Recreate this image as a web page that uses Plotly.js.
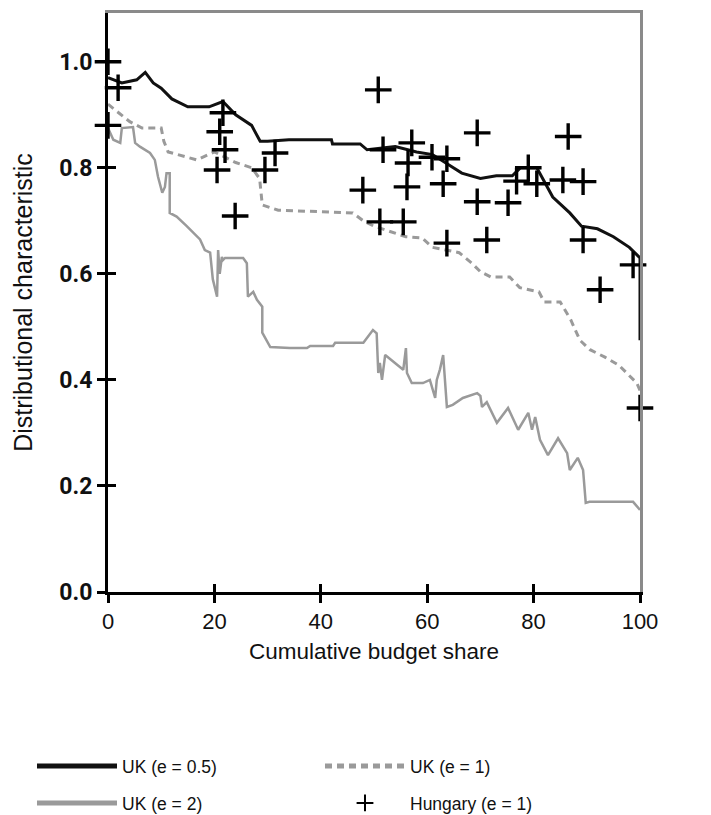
<!DOCTYPE html>
<html><head><meta charset="utf-8">
<script src="https://cdn.plot.ly/plotly-3.0.1.min.js"></script>
<style>body{margin:0;background:#fff}#chart{width:711px;height:815px}</style>
</head><body><div id="chart"></div>
<script>
// UK (e = 0.5)
const uk05X = [0, 2.6, 5.4, 7, 8.5, 10, 12, 15, 19, 21.6, 24, 27, 28.6, 30, 34, 42, 42.2, 47.4, 48.7, 54, 58, 61, 66.5, 70, 73, 76, 77.5, 80.6, 83.6, 86.8, 89, 92, 95, 98, 100, 100];
const uk05Y = [0.97, 0.96, 0.966, 0.98, 0.96, 0.95, 0.93, 0.915, 0.915, 0.925, 0.90, 0.88, 0.85, 0.85, 0.853, 0.853, 0.845, 0.845, 0.834, 0.84, 0.83, 0.825, 0.79, 0.78, 0.785, 0.785, 0.80, 0.80, 0.745, 0.715, 0.69, 0.685, 0.67, 0.65, 0.63, 0.475];
// UK (e = 1)
const uk1X = [0, 2.6, 4.1, 6.4, 10, 10.5, 11.3, 16.7, 20, 24, 27, 28.5, 29, 32, 46, 48, 50, 56, 59, 61, 66, 68.4, 70, 72, 75.5, 77.4, 81, 82, 85, 87, 88.7, 90.6, 93.4, 96, 99.4, 100];
const uk1Y = [0.92, 0.90, 0.887, 0.875, 0.875, 0.85, 0.83, 0.815, 0.83, 0.81, 0.80, 0.78, 0.73, 0.72, 0.715, 0.70, 0.69, 0.67, 0.668, 0.65, 0.64, 0.62, 0.604, 0.594, 0.594, 0.574, 0.566, 0.547, 0.547, 0.513, 0.475, 0.457, 0.443, 0.428, 0.394, 0.38];
// UK (e = 2)
const uk2X = [0, 1, 2.3, 2.6, 4.7, 5.1, 6, 7.9, 8.8, 9.4, 10.2, 10.7, 11, 11.6, 11.6, 12.9, 14.8, 17.3, 18.2, 19.2, 19.7, 20.5, 20.7, 21, 21.4, 21.6, 22, 25.4, 26.1, 26.3, 27.3, 28, 29, 29, 30.5, 34.2, 37.4, 38, 42.3, 42.7, 48, 48.7, 49.8, 50.5, 50.8, 51.1, 51.5, 52.1, 55.5, 56, 56.2, 57.1, 59.2, 60.5, 61.5, 61.8, 62.4, 63, 63.7, 64.8, 66.7, 69.4, 70, 70.3, 71.2, 73.1, 75.2, 77.1, 79, 79.7, 80.3, 81.2, 82.7, 84.6, 86.3, 86.8, 88.3, 89.3, 89.7, 89.8, 90.5, 98.7, 100];
const uk2Y = [0.875, 0.853, 0.847, 0.875, 0.877, 0.847, 0.84, 0.828, 0.815, 0.783, 0.753, 0.764, 0.79, 0.79, 0.715, 0.708, 0.69, 0.665, 0.645, 0.64, 0.59, 0.557, 0.645, 0.60, 0.632, 0.626, 0.63, 0.63, 0.62, 0.557, 0.566, 0.551, 0.538, 0.489, 0.462, 0.46, 0.46, 0.464, 0.464, 0.47, 0.47, 0.48, 0.494, 0.488, 0.413, 0.432, 0.40, 0.447, 0.419, 0.46, 0.413, 0.394, 0.394, 0.40, 0.366, 0.40, 0.42, 0.447, 0.349, 0.353, 0.366, 0.375, 0.37, 0.349, 0.358, 0.319, 0.347, 0.306, 0.338, 0.306, 0.33, 0.287, 0.258, 0.29, 0.262, 0.23, 0.253, 0.23, 0.19, 0.168, 0.17, 0.17, 0.155];
// Hungary (e = 1)
const huX = [0, 1.9, 0, 21.6, 21, 22, 20.5, 23.9, 29.5, 31.4, 47.9, 50.8, 51.1, 51.7, 55.5, 56.2, 56.4, 57.1, 60.9, 63, 63.7, 63.7, 69.4, 69.4, 71.2, 75.2, 76.8, 79, 80.6, 85.5, 86.5, 89.3, 89.3, 92.5, 98.7, 100];
const huY = [1.0, 0.951, 0.88, 0.904, 0.868, 0.834, 0.796, 0.709, 0.796, 0.828, 0.758, 0.947, 0.698, 0.834, 0.698, 0.764, 0.809, 0.847, 0.82, 0.77, 0.817, 0.658, 0.866, 0.736, 0.664, 0.734, 0.775, 0.80, 0.77, 0.777, 0.859, 0.774, 0.664, 0.57, 0.617, 0.347];

const xTicks = [0, 20, 40, 60, 80, 100];
const yTicks = [0, 0.2, 0.4, 0.6, 0.8, 1.0];
const yTickText = ['0.0', '0.2', '0.4', '0.6', '0.8', '1.0'];

const FONT = '"Liberation Sans", Arial, sans-serif';
const BOLDFONT = 'Roboto, "Liberation Sans", sans-serif';
const XR = [0, 100], YR = [0, 1.092];

const traces = [
  {x: uk05X, y: uk05Y, mode: 'lines', name: 'UK (e = 0.5)', legend: 'legend', legendwidth: 193, line: {color: '#111', width: 3}},
  {x: uk1X, y: uk1Y, mode: 'lines', name: 'UK (e = 1)', legend: 'legend', legendwidth: 90, line: {color: '#9a9a9a', width: 3, dash: '7px,5px'}},
  {x: uk2X, y: uk2Y, mode: 'lines', name: 'UK (e = 2)', legend: 'legend2', legendwidth: 193, line: {color: '#9a9a9a', width: 2.5}},
  {x: huX, y: huY, mode: 'markers', name: 'Hungary (e = 1)', legend: 'legend2', legendwidth: 130, cliponaxis: false,
   marker: {symbol: 'cross-thin', size: 19, color: '#000', line: {width: 3.4, color: '#000'}}},
  {x: [], y: [], xaxis: 'x2', yaxis: 'y2', showlegend: false, hoverinfo: 'skip'},
  {x: [], y: [], xaxis: 'x3', yaxis: 'y3', showlegend: false, hoverinfo: 'skip'}
];

const legendBase = {orientation: 'h', xref: 'container', yref: 'container', xanchor: 'left', yanchor: 'middle',
  x: 0.045, itemwidth: 80, itemsizing: 'constant',
  font: {family: FONT, size: 17.5, color: '#111'}, bgcolor: 'rgba(0,0,0,0)', borderwidth: 0};

const layout = {
  width: 711, height: 815,
  margin: {l: 108, r: 71, t: 13, b: 223},
  paper_bgcolor: '#fff', plot_bgcolor: '#fff',
  font: {family: FONT, color: '#111', size: 22},
  showlegend: true,
  xaxis: {range: XR, tickvals: xTicks, ticks: 'outside', ticklen: 8, tickwidth: 3, tickcolor: '#000',
    showline: true, linecolor: '#000', linewidth: 3, showgrid: false, zeroline: false,
    tickfont: {size: 22, family: FONT}, ticklabelstandoff: 0,
    title: {text: 'Cumulative budget share', font: {size: 22.5, family: FONT}, standoff: 10}},
  yaxis: {range: YR, tickvals: yTicks, ticktext: yTickText, ticks: 'outside', ticklen: 8, tickwidth: 3, tickcolor: '#000',
    showline: true, linecolor: '#000', linewidth: 3, showgrid: false, zeroline: false,
    tickfont: {size: 23, family: BOLDFONT, weight: 700, color: '#111'},
    title: {text: 'Distributional characteristic', font: {size: 25, family: FONT}, standoff: 20}},
  xaxis2: {range: XR, overlaying: 'x', anchor: 'y2', side: 'bottom', tickvals: xTicks, ticks: 'inside', ticklen: 8, tickwidth: 3,
    tickcolor: '#000', showticklabels: false, showline: false, showgrid: false, zeroline: false},
  yaxis2: {range: YR, overlaying: 'y', anchor: 'x2', side: 'left', tickvals: yTicks, ticks: 'inside', ticklen: 8, tickwidth: 3,
    tickcolor: '#000', showticklabels: false, showline: false, showgrid: false, zeroline: false},
  xaxis3: {range: XR, overlaying: 'x', anchor: 'y3', side: 'top', ticks: '', showticklabels: false,
    showline: true, linecolor: '#8a8a8a', linewidth: 3, showgrid: false, zeroline: false},
  yaxis3: {range: YR, overlaying: 'y', anchor: 'x3', side: 'right', ticks: '', showticklabels: false,
    showline: true, linecolor: '#8a8a8a', linewidth: 3, showgrid: false, zeroline: false},
  legend: Object.assign({}, legendBase, {y: (815 - 766) / 815}),
  legend2: Object.assign({}, legendBase, {y: (815 - 803) / 815})
};

Plotly.newPlot('chart', traces, layout, {displayModeBar: false, staticPlot: true});
</script>
</body></html>
